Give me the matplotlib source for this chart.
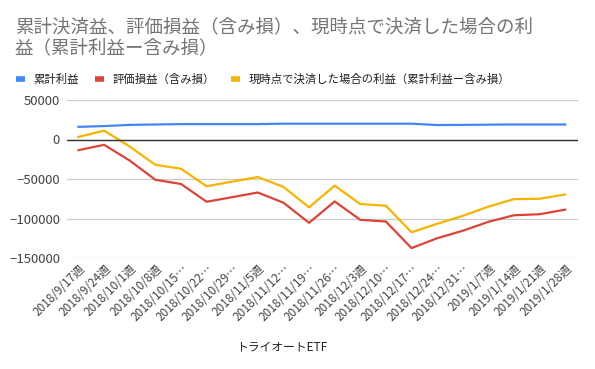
import numpy as np
import matplotlib.pyplot as plt

plt.rcParams['font.family'] = ['Noto Sans CJK JP', 'DejaVu Sans']

weeks = ["2018/9/17週", "2018/9/24週", "2018/10/1週", "2018/10/8週", "2018/10/15…",
         "2018/10/22…", "2018/10/29…", "2018/11/5週", "2018/11/12…", "2018/11/19…",
         "2018/11/26…", "2018/12/3週", "2018/12/10…", "2018/12/17…", "2018/12/24…",
         "2018/12/31…", "2019/1/7週", "2019/1/14週", "2019/1/21週", "2019/1/28週"]

cum_profit = [16000, 17000, 18500, 19000, 19500, 19500, 19500, 19500, 20000, 20000,
              20000, 20000, 20000, 20000, 18300, 18500, 18800, 19000, 19000, 19000]
unrealized = [-13500, -6700, -26700, -51000, -56300, -78800, -73000, -67100, -80000, -105500,
              -78400, -101700, -103800, -137500, -125000, -115500, -104200, -95900, -94600, -88800]
settle_now = [3300, 11200, -9000, -32000, -37000, -59200, -53300, -47500, -60000, -85900,
              -58400, -81700, -83800, -117500, -106700, -96700, -85000, -75500, -75000, -69600]

title = "累計決済益、評価損益（含み損）、現時点で決済した場合の利\n益（累計利益ー含み損）"
labels = ["累計利益", "評価損益（含み損）", "現時点で決済した場合の利益（累計利益ー含み損）"]
colors = ["#4285F4", "#DB4437", "#F4B400"]

fig = plt.figure(figsize=(5.95, 3.69), dpi=100)
ax = fig.add_axes([67 / 595, 1 - 258 / 369, (578 - 67) / 595, (258 - 100) / 369])

x = np.arange(len(weeks))
for series, lab, col in zip([cum_profit, unrealized, settle_now], labels, colors):
  ax.plot(x, series, color=col, lw=1.6, label=lab)

ax.set_ylim(-150000, 50000)
ax.set_yticks([-150000, -100000, -50000, 0, 50000])
ax.set_xlim(-0.45, len(weeks) - 1 + 0.5)
ax.grid(axis='y', color='#cccccc', lw=0.9)
ax.axhline(0, color='#333333', lw=1.0)
ax.set_axisbelow(True)
for s in ax.spines.values():
  s.set_visible(False)
ax.tick_params(axis='both', length=0, labelcolor='#444444')
ax.tick_params(axis='y', pad=5, labelsize=9.5)
ax.tick_params(axis='x', labelsize=8.5, pad=3)
ax.set_xticks(x)
ax.set_xticklabels(weeks, rotation=45, ha='right', rotation_mode='anchor')

fig.text(282 / 595, 1 - 347 / 369, "トライオートETF", fontsize=8.5, color='#222222',
         ha='center', va='center')

# baseline of the last title line
fig.text(15 / 595, 1 - 53 / 369, title, fontsize=13.3, color='#757575', va='baseline',
         ha='left', linespacing=1.22)

handles, labs = ax.get_legend_handles_labels()
leg = fig.legend(handles, labs, loc='upper left', bbox_to_anchor=(6 / 595, 1 - 63 / 369), ncol=3,
                 frameon=False, fontsize=8.2, handlelength=0.75, handletextpad=0.8,
                 columnspacing=1.4)
for h in leg.get_lines():
  h.set_linewidth(4)
  h.set_solid_capstyle('butt')
for t in leg.get_texts():
  t.set_color('#222222')

plt.savefig("out.png", dpi=100)
